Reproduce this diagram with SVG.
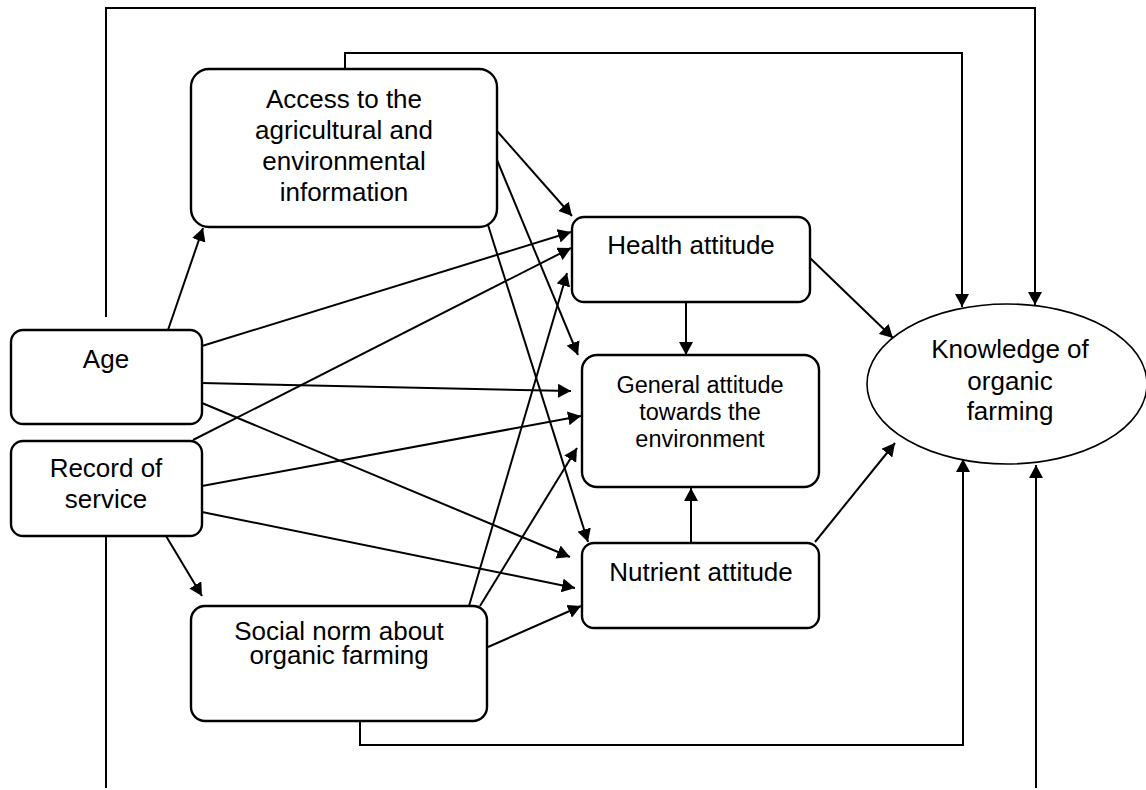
<svg xmlns="http://www.w3.org/2000/svg" width="1146" height="790" viewBox="0 0 1146 790">
<style>
.box{fill:#fff;stroke:#000;stroke-width:2.4}
.ell{fill:#fff;stroke:#000;stroke-width:1.6}
.t{font-family:"Liberation Sans",Arial,Helvetica,sans-serif;font-size:26px;fill:#000;text-anchor:middle}
.s{font-size:23.5px}
.c line,.c polyline{fill:none;stroke:#000;stroke-width:2}
.a{marker-end:url(#arr)}
</style>
<defs>
<marker id="arr" markerUnits="userSpaceOnUse" markerWidth="14" markerHeight="14" refX="13" refY="7" orient="auto" viewBox="0 0 14 14">
<path d="M0,0 L13,7 L0,14 z" fill="#000"/>
</marker>
</defs>
<rect width="1146" height="790" fill="#fff"/>
<g id="connectors" class="c">
<polyline class="a" points="106,317 106,8 1035,8 1035,305"/>
<polyline class="a" points="345,69 345,53 962,53 962,307"/>
<polyline class="a" points="360,721 360,745 963,745 963,459"/>
<line class="a" x1="1036" y1="788" x2="1036" y2="465"/>
<line class="a" x1="497" y1="131" x2="572" y2="216"/>
<line class="a" x1="497" y1="160" x2="578" y2="355"/>
<line class="a" x1="488" y1="225" x2="588" y2="542"/>
<line class="a" x1="168" y1="330" x2="203" y2="228"/>
<line class="a" x1="202" y1="346" x2="571" y2="232"/>
<line class="a" x1="202" y1="383" x2="571" y2="391"/>
<line class="a" x1="202" y1="403" x2="570" y2="557"/>
<line class="a" x1="193" y1="440" x2="571" y2="248"/>
<line class="a" x1="202" y1="486" x2="581" y2="416"/>
<line class="a" x1="202" y1="512" x2="575" y2="588"/>
<line class="a" x1="166" y1="536" x2="202" y2="596"/>
<line x1="106" y1="536" x2="106" y2="788"/>
<line class="a" x1="469" y1="606" x2="567" y2="273"/>
<line class="a" x1="480" y1="606" x2="577" y2="448"/>
<line class="a" x1="488" y1="647" x2="581" y2="606"/>
<line class="a" x1="686" y1="302" x2="686" y2="355"/>
<line class="a" x1="691" y1="543" x2="691" y2="488"/>
<line class="a" x1="810" y1="258" x2="893" y2="338"/>
<line class="a" x1="815" y1="542" x2="895" y2="443"/>
</g>
<g id="access">
<rect class="box" x="191" y="69" width="306" height="158" rx="18"/>
<text class="t" x="344" y="108">Access to the</text>
<text class="t" x="344" y="139">agricultural and</text>
<text class="t" x="344" y="170">environmental</text>
<text class="t" x="344" y="201">information</text>
</g>
<g id="age">
<rect class="box" x="11" y="330" width="191" height="94" rx="12"/>
<text class="t" x="106" y="368">Age</text>
</g>
<g id="record">
<rect class="box" x="11" y="441" width="191" height="95" rx="12"/>
<text class="t" x="106" y="477">Record of</text>
<text class="t" x="106" y="508">service</text>
</g>
<g id="social">
<rect class="box" x="191" y="606" width="296" height="115" rx="14"/>
<text class="t" x="339" y="640">Social norm about</text>
<text class="t" x="339" y="664">organic farming</text>
</g>
<g id="health">
<rect class="box" x="572" y="217" width="238" height="85" rx="12"/>
<text class="t" x="691" y="254">Health attitude</text>
</g>
<g id="general">
<rect class="box" x="582" y="355" width="237" height="132" rx="15"/>
<text class="t s" x="700" y="393">General attitude</text>
<text class="t s" x="700" y="420">towards the</text>
<text class="t s" x="700" y="447">environment</text>
</g>
<g id="nutrient">
<rect class="box" x="582" y="543" width="237" height="85" rx="12"/>
<text class="t" x="701" y="581">Nutrient attitude</text>
</g>
<g id="knowledge">
<ellipse class="ell" cx="1007" cy="384" rx="140" ry="80"/>
<text class="t" x="1010" y="358">Knowledge of</text>
<text class="t" x="1010" y="390">organic</text>
<text class="t" x="1010" y="420">farming</text>
</g>
</svg>
